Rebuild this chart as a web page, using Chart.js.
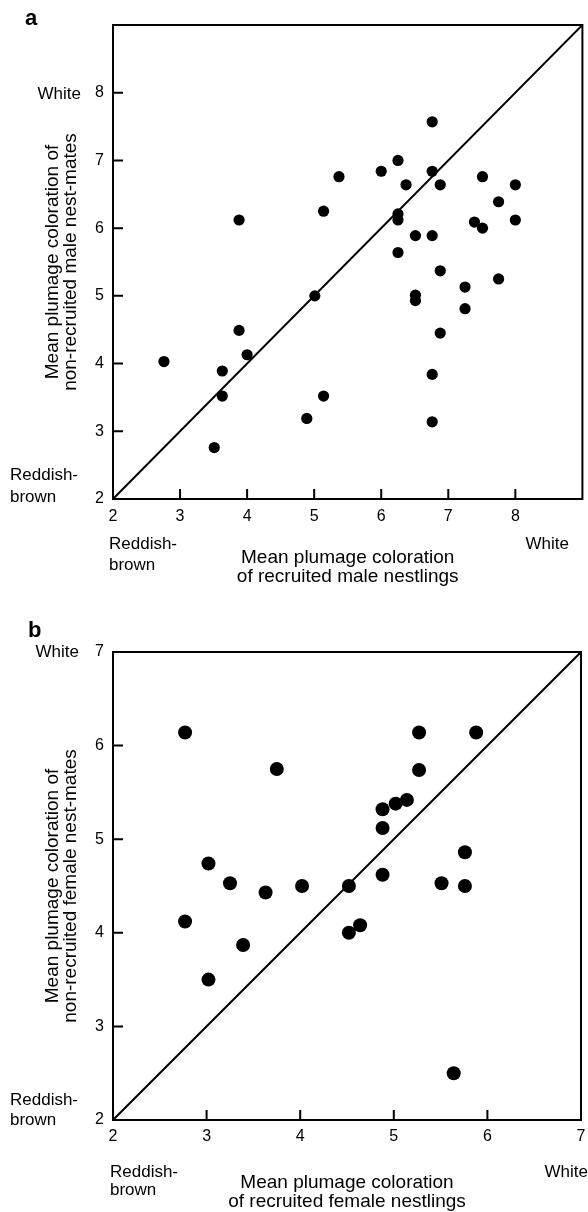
<!DOCTYPE html>
<html>
<head>
<meta charset="utf-8">
<script src="https://cdn.jsdelivr.net/npm/chart.js@4.4.0/dist/chart.umd.min.js"></script>
<style>
  body { margin: 0; background: #fff; }
  #wrap { position: relative; width: 588px; height: 1212px; }
  canvas { position: absolute; left: 0; }
  #chart-a { top: 0; }
  #chart-b { top: 620px; }
</style>
</head>
<body>
<div id="wrap">
  <canvas id="chart-a" width="588" height="600"></canvas>
  <canvas id="chart-b" width="588" height="592"></canvas>
</div>
<script>
'use strict';

// Panel a: males (x = recruited nestling, y = non-recruited nest-mates)
let maleRecruited = [6.76, 5.37, 6.0, 6.25, 6.76, 6.37, 6.88, 7.51, 8.0, 7.75,
  3.88, 5.14, 6.25, 6.25, 7.39, 7.51, 8.0, 6.51, 6.76, 6.25,
  6.88, 5.01, 6.51, 6.51, 7.25, 7.75, 7.25, 3.88, 6.88, 4.0,
  2.76, 3.63, 6.76, 3.63, 5.14, 4.89, 6.76, 3.51];
let maleNestMates = [7.57, 6.76, 6.84, 7.0, 6.84, 6.64, 6.64, 6.76, 6.64, 6.39,
  6.12, 6.25, 6.21, 6.12, 6.09, 6.0, 6.12, 5.89, 5.89, 5.64,
  5.37, 5.0, 5.01, 4.93, 5.13, 5.25, 4.81, 4.49, 4.45, 4.13,
  4.03, 3.89, 3.84, 3.52, 3.52, 3.19, 3.14, 2.76];

// Panel b: females
let femaleRecruited = [2.77, 3.75, 5.27, 5.88, 5.27, 4.88, 5.02, 5.14,
  4.88, 3.02, 3.25, 3.63, 4.02, 4.52, 4.88, 5.51, 5.76, 5.76,
  2.77, 4.52, 4.64, 3.39, 3.02, 5.64];
let femaleNestMates = [6.14, 5.75, 6.14, 6.14, 5.74, 5.32, 5.38, 5.42,
  5.12, 4.74, 4.53, 4.43, 4.50, 4.50, 4.62, 4.53, 4.86, 4.50,
  4.12, 4.0, 4.08, 3.87, 3.50, 2.50];

// axes
let rangeA = [2, 9];
let rangeB = [2, 7];
let ticksA = [2, 3, 4, 5, 6, 7, 8];
let ticksB = [2, 3, 4, 5, 6, 7];

Chart.defaults.font.family = "'Liberation Sans', Arial, Helvetica, sans-serif";
Chart.defaults.color = '#000';

function toPoints(xs, ys) {
  let pts = [];
  for (let i = 0; i < xs.length; i++) {
    pts.push({ x: xs[i], y: ys[i] });
  }
  return pts;
}

// box around the plot, inward tick marks and the extra side labels
const framePlugin = {
  id: 'frame',
  afterDraw(chart, args, opts) {
    const ctx = chart.ctx;
    const a = chart.chartArea;
    const x = chart.scales.x;
    const y = chart.scales.y;
    ctx.save();
    ctx.strokeStyle = '#000';
    ctx.lineWidth = 2;
    ctx.strokeRect(a.left, a.top, a.right - a.left, a.bottom - a.top);
    ctx.beginPath();
    opts.ticks.forEach(v => {
      if (v === x.min || v === x.max) return;
      let px = x.getPixelForValue(v);
      ctx.moveTo(px, a.bottom);
      ctx.lineTo(px, a.bottom - 10);
    });
    opts.ticks.forEach(v => {
      if (v === y.min || v === y.max) return;
      let py = y.getPixelForValue(v);
      ctx.moveTo(a.left, py);
      ctx.lineTo(a.left + 10, py);
    });
    ctx.stroke();

    ctx.fillStyle = '#000';
    ctx.textBaseline = 'middle';
    ctx.font = "17px 'Liberation Sans', Arial, sans-serif";
    opts.labels.forEach(l => {
      ctx.textAlign = l.align;
      ctx.fillText(l.text, l.x, l.y);
    });
    ctx.textBaseline = 'alphabetic';
    ctx.textAlign = 'left';
    ctx.font = "bold 22px 'Liberation Sans', Arial, sans-serif";
    ctx.fillText(opts.panel.text, opts.panel.x, opts.panel.y);
    ctx.restore();
  }
};

function makeChart(el, p) {
  return new Chart(el, {
    type: 'scatter',
    data: {
      datasets: [{
        data: toPoints(p.xs, p.ys),
        backgroundColor: '#000',
        borderWidth: 0,
        pointRadius: p.radius,
        pointHoverRadius: p.radius
      },
      {
        data: toPoints(p.range, p.range),
        showLine: true,
        borderColor: '#000',
        borderWidth: 2,
        pointRadius: 0
      }]
    },
    options: {
      responsive: false,
      animation: false,
      layout: { padding: p.padding },
      plugins: {
        legend: { display: false },
        tooltip: { enabled: false },
        frame: p.frame
      },
      scales: {
        x: {
          type: 'linear',
          min: p.range[0],
          max: p.range[1],
          grid: { display: false, drawTicks: false },
          border: { display: false },
          ticks: {
            stepSize: 1,
            padding: p.xPad,
            maxRotation: 0,
            autoSkip: false,
            font: { size: 16 },
            callback: v => p.ticks.includes(v) ? String(v) : ''
          },
          title: {
            display: true,
            text: p.xTitle,
            font: { size: 19, lineHeight: 1.0 },
            padding: { top: 0, bottom: p.xTitlePad }
          },
          afterFit: s => {
            s.height = p.xHeight;
            s.paddingLeft = 0;
            s.paddingRight = 0;
          }
        },
        y: {
          type: 'linear',
          min: p.range[0],
          max: p.range[1],
          grid: { display: false, drawTicks: false },
          border: { display: false },
          ticks: {
            stepSize: 1,
            padding: 9,
            autoSkip: false,
            font: { size: 16 },
            callback: v => p.ticks.includes(v) ? String(v) : ''
          },
          title: {
            display: true,
            text: p.yTitle,
            font: { size: 19, lineHeight: 0.95 },
            padding: { top: 43.6, bottom: 0 }
          },
          afterFit: s => {
            s.width = 113;
            s.paddingTop = 0;
            s.paddingBottom = 0;
          }
        }
      }
    },
    plugins: [framePlugin]
  });
}

makeChart(document.getElementById('chart-a'), {
  xs: maleRecruited,
  ys: maleNestMates,
  range: rangeA,
  ticks: ticksA,
  radius: 5.6,
  padding: { left: 0, top: 25, right: 0, bottom: 0 },
  xHeight: 101,
  xPad: 8,
  xTitlePad: 13.5,
  xTitle: ['Mean plumage coloration', 'of recruited male nestlings'],
  yTitle: ['Mean plumage coloration of', 'non-recruited male nest-mates'],
  frame: {
    ticks: ticksA,
    panel: { text: 'a', x: 25, y: 25 },
    labels: [
      { text: 'White', x: 81, y: 94, align: 'right' },
      { text: 'Reddish-', x: 10, y: 475, align: 'left' },
      { text: 'brown', x: 10, y: 497, align: 'left' },
      { text: 'Reddish-', x: 109, y: 544, align: 'left' },
      { text: 'brown', x: 109, y: 565, align: 'left' },
      { text: 'White', x: 569, y: 544, align: 'right' }
    ]
  }
});

makeChart(document.getElementById('chart-b'), {
  xs: femaleRecruited,
  ys: femaleNestMates,
  range: rangeB,
  ticks: ticksB,
  radius: 7,
  padding: { left: 0, top: 32, right: 1, bottom: 0 },
  xHeight: 92,
  xPad: 7,
  xTitlePad: 0.5,
  xTitle: ['Mean plumage coloration', 'of recruited female nestlings'],
  yTitle: ['Mean plumage coloration of', 'non-recruited female nest-mates'],
  frame: {
    ticks: ticksB,
    panel: { text: 'b', x: 28, y: 17 },
    labels: [
      { text: 'White', x: 79, y: 32, align: 'right' },
      { text: 'Reddish-', x: 10, y: 480, align: 'left' },
      { text: 'brown', x: 10, y: 500, align: 'left' },
      { text: 'Reddish-', x: 110, y: 552, align: 'left' },
      { text: 'brown', x: 110, y: 570, align: 'left' },
      { text: 'White', x: 588, y: 552, align: 'right' }
    ]
  }
});
</script>
</body>
</html>
